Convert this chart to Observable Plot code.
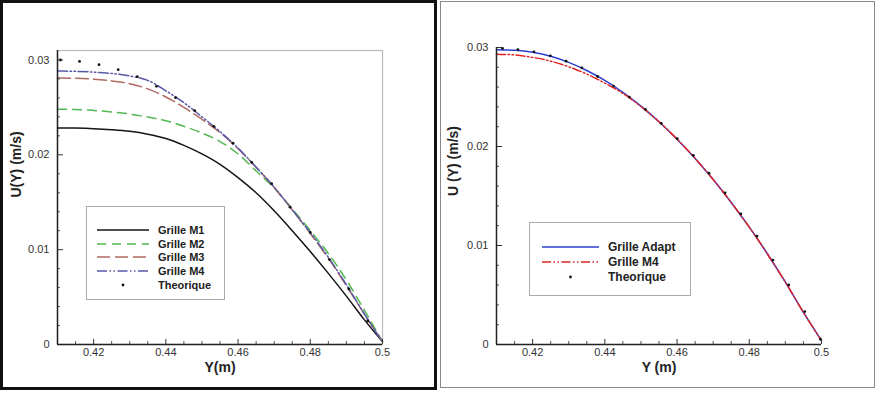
<!DOCTYPE html>
<html>
<head>
<meta charset="utf-8">
<script src="https://cdn.jsdelivr.net/npm/d3@7"></script>
<script src="https://cdn.jsdelivr.net/npm/@observablehq/plot@0.6"></script>
<style>
  html, body { margin: 0; padding: 0; background: #fff; }
  body { position: relative; width: 881px; height: 398px; overflow: hidden; font-family: "Liberation Sans", Arial, sans-serif; }
  .frame { position: absolute; box-sizing: border-box; }
  #frameL { left: 0; top: 0; width: 437px; height: 390px; border: 3px solid #111; }
  #frameR { left: 440px; top: 1px; width: 435px; height: 387px; border: 1px solid #888; }
  .plot { position: absolute; top: 0; }
  .legend { position: absolute; box-sizing: border-box; border: 1px solid #aaa; background: #fff; }
  .legend .row { position: absolute; left: 0; height: 14px; }
  .legend svg { position: absolute; top: 0; }
  .legend span { position: absolute; top: 0; line-height: 14px; font-weight: bold; color: #222; white-space: nowrap; }
</style>
</head>
<body>
<div class="frame" id="frameL"></div>
<div class="frame" id="frameR"></div>
<div class="plot" id="plotL" style="left:0px"></div>
<div class="plot" id="plotR" style="left:440px"></div>
<div class="legend" id="legL" style="left:86px;top:206px;width:139px;height:94px"></div>
<div class="legend" id="legR" style="left:529px;top:222px;width:162px;height:74px"></div>
<script>
// ---------- shared grid of positions Y (m) ----------
const posY = [0.41,0.415,0.42,0.425,0.43,0.435,0.44,0.445,0.45,0.455,0.46,0.465,0.47,0.475,0.48,0.485,0.49,0.495,0.5];

// ---------- left panel: mesh study ----------
const leftNames = ["Grille M1","Grille M2","Grille M3","Grille M4","Theorique"];
const leftM1 = [0.02284,0.02282,0.02276,0.02265,0.02248,0.02218,0.02172,0.0210,0.0201,0.0190,0.0176,0.0160,0.0141,0.0120,0.0098,0.0075,0.0051,0.0026,0.0003];
const leftM2 = [0.0248,0.02478,0.02468,0.02452,0.0243,0.02398,0.0236,0.0230,0.0223,0.0214,0.0201,0.0183,0.0165,0.0143,0.0120,0.0096,0.0068,0.0036,0.0003];
const leftM3 = [0.0281,0.02807,0.02798,0.0278,0.0275,0.02695,0.0261,0.0250,0.02375,0.02235,0.02065,0.01868,0.01655,0.0142,0.0117,0.0091,0.0062,0.0032,0.0003];
const leftM4 = [0.02885,0.0288,0.02872,0.02858,0.02832,0.02785,0.02675,0.0255,0.0240,0.02245,0.0207,0.0187,0.0166,0.0142,0.0118,0.0092,0.0063,0.0032,0.0003];
const leftTheoY = [0.4108,0.4161,0.4215,0.4268,0.4321,0.4374,0.4427,0.448,0.4533,0.4586,0.4638,0.4693,0.4744,0.48,0.4853,0.4907,0.4959];
const leftTheoU = [0.0300,0.02985,0.02951,0.02898,0.02824,0.02722,0.02603,0.02466,0.02301,0.02122,0.01919,0.01695,0.01448,0.01182,0.00895,0.00585,0.00248];

// ---------- right panel: adaptive grid ----------
const rightNames = ["Grille Adapt","Grille M4","Theorique"];
const rightAdapt = [0.02978,0.02972,0.02952,0.02912,0.0285,0.02768,0.02667,0.02546,0.02407,0.0225,0.02074,0.0188,0.01667,0.01435,0.01185,0.00917,0.0063,0.00324,0.0004];
const rightM4 = [0.02933,0.02925,0.029,0.02862,0.02805,0.02732,0.0264,0.02536,0.02404,0.0225,0.02074,0.0188,0.01667,0.01435,0.01185,0.00917,0.0063,0.00324,0.0004];
const rightTheoY = [0.41166,0.41592,0.42037,0.42491,0.42927,0.43363,0.43798,0.44243,0.44679,0.45124,0.4556,0.46005,0.4645,0.46885,0.4733,0.47766,0.48211,0.48656,0.49092,0.49537,0.49972];
const rightTheoU = [0.0299,0.02979,0.02956,0.02916,0.02862,0.02795,0.02707,0.0261,0.02499,0.02375,0.02234,0.02079,0.01911,0.0173,0.01532,0.0132,0.01095,0.00853,0.00601,0.00333,0.00054];

// ---------- ticks ----------
const xTicks = [0.42,0.44,0.46,0.48,0.5];
const xMinor = [0.415,0.425,0.43,0.435,0.445,0.45,0.455,0.465,0.47,0.475,0.485,0.49,0.495];
const yTicks = [0,0.01,0.02,0.03];
const yMinor = [0.002,0.004,0.006,0.008,0.012,0.014,0.016,0.018,0.022,0.024,0.026,0.028];

// ---------- styles ----------
const leftStyles = [
  {stroke:"#151515", dash:null},
  {stroke:"#52b852", dash:"9,6"},
  {stroke:"#b06a60", dash:"13,5"},
  {stroke:"#5858a8", dash:"10,2.5,1.5,2.5,1.5,2.5"}
];
const rightStyles = [
  {stroke:"#2b3fcf", dash:null},
  {stroke:"#e02424", dash:"9,2.5,1.5,2.5,1.5,2.5"}
];

const toRows = (arr) => posY.map((p, i) => ({y: p, u: arr[i]}));
const theoRows = (ys, us) => ys.map((p, i) => ({y: p, u: us[i]}));
const fmt = (d) => `${d}`;

function axes(xDomainMin, yTop) {
  return [
    Plot.axisY(yMinor.filter(v => v <= yTop), {label: null, tickSize: -3, tickFormat: () => "", stroke: "#555"}),
    Plot.axisY(yTicks, {label: null, tickSize: -6, tickPadding: 14, tickFormat: fmt, stroke: "#333", fill: "#333", fontSize: 11}),
    Plot.axisX(xMinor, {label: null, tickSize: -3, tickFormat: () => "", stroke: "#555"}),
    Plot.axisX(xTicks, {label: null, tickSize: -5, tickPadding: 9, tickFormat: fmt, stroke: "#333", fill: "#333", fontSize: 11}),
    Plot.ruleX([xDomainMin], {stroke: "#222", strokeWidth: 1.5}),
    Plot.ruleY([0], {stroke: "#222", strokeWidth: 1.5})
  ];
}

// ---------- left plot ----------
const leftSeries = [leftM1, leftM2, leftM3, leftM4];
const plotL = Plot.plot({
  width: 437, height: 390,
  marginLeft: 57, marginRight: 55, marginTop: 50, marginBottom: 46,
  style: {fontFamily: "Liberation Sans, Arial, sans-serif", fontSize: "11px", background: "transparent", color: "#333"},
  x: {domain: [0.41, 0.5], axis: null},
  y: {domain: [0, 0.031], axis: null},
  marks: [
    Plot.frame({stroke: "#bbb", strokeWidth: 1.2}),
    ...leftSeries.map((s, i) => Plot.line(toRows(s), {x: "y", y: "u", stroke: leftStyles[i].stroke, strokeWidth: 1.5, strokeDasharray: leftStyles[i].dash, curve: "monotone-x"})),
    Plot.dot(theoRows(leftTheoY, leftTheoU), {x: "y", y: "u", r: 1.4, fill: "#111", stroke: null}),
    ...axes(0.41, 0.031),
    Plot.text(["U(Y) (m/s)"], {text: d => d, frameAnchor: "left", dx: -41, rotate: -90, fontWeight: "bold", fontSize: 14, fill: "#222"}),
    Plot.text(["Y(m)"], {text: d => d, frameAnchor: "bottom", lineAnchor: "middle", dy: 23, fontWeight: "bold", fontSize: 14, fill: "#222"})
  ]
});
document.getElementById("plotL").appendChild(plotL);

// ---------- right plot ----------
const rightSeries = [rightAdapt, rightM4];
const plotR = Plot.plot({
  width: 436, height: 390,
  marginLeft: 56, marginRight: 55, marginTop: 47, marginBottom: 46,
  style: {fontFamily: "Liberation Sans, Arial, sans-serif", fontSize: "11px", background: "transparent", color: "#333"},
  x: {domain: [0.41, 0.5], axis: null},
  y: {domain: [0, 0.03], axis: null},
  marks: [
    ...rightSeries.map((s, i) => Plot.line(toRows(s), {x: "y", y: "u", stroke: rightStyles[i].stroke, strokeWidth: 1.5, strokeDasharray: rightStyles[i].dash, curve: "monotone-x"})),
    Plot.dot(theoRows(rightTheoY, rightTheoU), {x: "y", y: "u", r: 1.4, fill: "#111", stroke: null}),
    ...axes(0.41, 0.03),
    Plot.text(["U (Y) (m/s)"], {text: d => d, frameAnchor: "left", dx: -43, rotate: -90, fontWeight: "bold", fontSize: 14, fill: "#222"}),
    Plot.text(["Y (m)"], {text: d => d, frameAnchor: "bottom", lineAnchor: "middle", dy: 23, fontWeight: "bold", fontSize: 14, fill: "#222"})
  ]
});
document.getElementById("plotR").appendChild(plotR);

// ---------- legends ----------
function buildLegend(el, names, styles, opts) {
  names.forEach((name, i) => {
    const row = document.createElement("div");
    row.className = "row";
    row.style.top = (opts.top + i * opts.step - 7) + "px";
    row.style.width = "100%";
    const svgNS = "http://www.w3.org/2000/svg";
    const svg = document.createElementNS(svgNS, "svg");
    svg.setAttribute("width", opts.lineX2 + 2);
    svg.setAttribute("height", 14);
    if (i < styles.length) {
      const ln = document.createElementNS(svgNS, "line");
      ln.setAttribute("x1", opts.lineX1); ln.setAttribute("x2", opts.lineX2);
      ln.setAttribute("y1", 7); ln.setAttribute("y2", 7);
      ln.setAttribute("stroke", styles[i].stroke);
      ln.setAttribute("stroke-width", 1.6);
      if (styles[i].dash) ln.setAttribute("stroke-dasharray", styles[i].dash);
      svg.appendChild(ln);
    } else {
      const c = document.createElementNS(svgNS, "circle");
      c.setAttribute("cx", (opts.lineX1 + opts.lineX2) / 2); c.setAttribute("cy", 7);
      c.setAttribute("r", 1.4); c.setAttribute("fill", "#111");
      svg.appendChild(c);
    }
    row.appendChild(svg);
    const t = document.createElement("span");
    t.textContent = name;
    t.style.left = opts.textX + "px";
    t.style.fontSize = opts.fontSize + "px";
    row.appendChild(t);
    el.appendChild(row);
  });
}
buildLegend(document.getElementById("legL"), leftNames, leftStyles, {top: 23, step: 13.7, lineX1: 10, lineX2: 62, textX: 71, fontSize: 11});
buildLegend(document.getElementById("legR"), rightNames, rightStyles, {top: 24, step: 15, lineX1: 12, lineX2: 69, textX: 78, fontSize: 12});
</script>
</body>
</html>
